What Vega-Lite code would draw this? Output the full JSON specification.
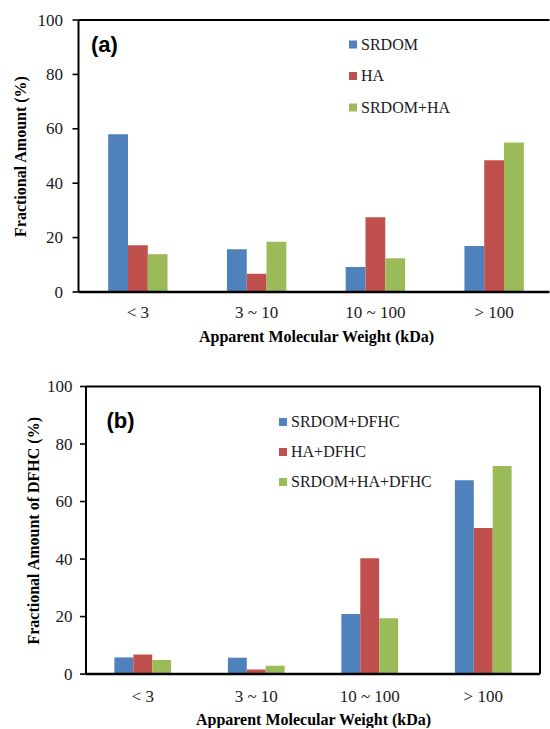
{
  "$schema": "https://vega.github.io/schema/vega-lite/v6.json",
  "padding": {"left": 11.5, "top": 11, "right": 0, "bottom": 0},
  "background": "white",
  "datasets": {
    "fractionA": [
      {"size": "< 3", "sample": "SRDOM", "amount": 58.0},
      {"size": "< 3", "sample": "HA", "amount": 17.2},
      {"size": "< 3", "sample": "SRDOM+HA", "amount": 13.9},
      {"size": "3 ~ 10", "sample": "SRDOM", "amount": 15.7},
      {"size": "3 ~ 10", "sample": "HA", "amount": 6.7},
      {"size": "3 ~ 10", "sample": "SRDOM+HA", "amount": 18.5},
      {"size": "10 ~ 100", "sample": "SRDOM", "amount": 9.2},
      {"size": "10 ~ 100", "sample": "HA", "amount": 27.5},
      {"size": "10 ~ 100", "sample": "SRDOM+HA", "amount": 12.4},
      {"size": "> 100", "sample": "SRDOM", "amount": 16.9},
      {"size": "> 100", "sample": "HA", "amount": 48.4},
      {"size": "> 100", "sample": "SRDOM+HA", "amount": 55.0}
    ],
    "fractionB": [
      {"size": "< 3", "sample": "SRDOM+DFHC", "amount": 5.8},
      {"size": "< 3", "sample": "HA+DFHC", "amount": 6.8},
      {"size": "< 3", "sample": "SRDOM+HA+DFHC", "amount": 4.9},
      {"size": "3 ~ 10", "sample": "SRDOM+DFHC", "amount": 5.7},
      {"size": "3 ~ 10", "sample": "HA+DFHC", "amount": 1.6},
      {"size": "3 ~ 10", "sample": "SRDOM+HA+DFHC", "amount": 2.9},
      {"size": "10 ~ 100", "sample": "SRDOM+DFHC", "amount": 20.9},
      {"size": "10 ~ 100", "sample": "HA+DFHC", "amount": 40.3},
      {"size": "10 ~ 100", "sample": "SRDOM+HA+DFHC", "amount": 19.4},
      {"size": "> 100", "sample": "SRDOM+DFHC", "amount": 67.4},
      {"size": "> 100", "sample": "HA+DFHC", "amount": 50.8},
      {"size": "> 100", "sample": "SRDOM+HA+DFHC", "amount": 72.4}
    ],
    "yTicks": [
      {"tick": 0}, {"tick": 20}, {"tick": 40}, {"tick": 60}, {"tick": 80}, {"tick": 100}
    ],
    "frame": [{}]
  },
  "vconcat": [
    {
      "width": 471,
      "height": 272,
      "title": {
        "text": "(a)",
        "anchor": "start",
        "frame": "group",
        "orient": "top",
        "offset": 0,
        "baseline": "middle",
        "dx": 12.5,
        "dy": 56,
        "font": "Liberation Sans",
        "fontSize": 22,
        "fontWeight": "bold",
        "color": "black"
      },
      "layer": [
        {
          "data": {"name": "fractionA"},
          "mark": {"type": "bar"},
          "encoding": {
            "x": {
              "field": "size",
              "type": "nominal",
              "sort": ["< 3", "3 ~ 10", "10 ~ 100", "> 100"],
              "scale": {"range": [0, 475], "paddingInner": 0.5, "paddingOuter": 0.25},
              "axis": {"title": "Apparent Molecular Weight (kDa)", "labelAngle": 0, "domain": false, "ticks": false, "labelPadding": 12, "titlePadding": 8}
            },
            "xOffset": {
              "field": "sample",
              "type": "nominal",
              "sort": ["SRDOM", "HA", "SRDOM+HA"],
              "scale": {"paddingInner": 0, "paddingOuter": 0}
            },
            "y": {
              "field": "amount",
              "type": "quantitative",
              "scale": {"domain": [0, 100], "nice": false},
              "axis": {"title": "Fractional  Amount (%)", "values": [0, 20, 40, 60, 80, 100], "domain": false, "ticks": false, "labelPadding": 16, "titlePadding": 9}
            },
            "color": {
              "field": "sample",
              "type": "nominal",
              "sort": ["SRDOM", "HA", "SRDOM+HA"],
              "scale": {"domain": ["SRDOM", "HA", "SRDOM+HA"], "range": ["#4F81BD", "#C0504D", "#9BBB59"]},
              "legend": {"orient": "none", "legendX": 266.5, "legendY": 16.5, "rowPadding": 15.5, "title": null}
            }
          }
        },
        {
          "data": {"name": "frame"},
          "mark": {"type": "rule", "strokeWidth": 2, "color": "black"},
          "encoding": {"y": {"datum": 100}}
        },
        {
          "data": {"name": "frame"},
          "mark": {"type": "rule", "strokeWidth": 2.5, "color": "black"},
          "encoding": {"y": {"datum": 0}}
        },
        {
          "data": {"name": "frame"},
          "mark": {"type": "rule", "strokeWidth": 2, "color": "black"},
          "encoding": {
            "x": {"datum": 0, "type": "quantitative", "scale": {"domain": [0, 1]}, "axis": null},
            "y": {"datum": 0},
            "y2": {"datum": 100}
          }
        },
        {
          "data": {"name": "yTicks"},
          "mark": {"type": "tick", "orient": "horizontal", "size": 6, "thickness": 1.6, "color": "black", "opacity": 1, "xOffset": -3},
          "encoding": {
            "x": {"datum": 0, "type": "quantitative", "scale": {"domain": [0, 1]}, "axis": null},
            "y": {"field": "tick", "type": "quantitative"}
          }
        }
      ],
      "resolve": {"scale": {"x": "independent"}}
    },
    {
      "width": 461.5,
      "height": 287.6,
      "title": {
        "text": "(b)",
        "anchor": "start",
        "frame": "group",
        "orient": "top",
        "offset": 0,
        "baseline": "middle",
        "dx": 28,
        "dy": 65,
        "font": "Liberation Sans",
        "fontSize": 22,
        "fontWeight": "bold",
        "color": "black"
      },
      "layer": [
        {
          "data": {"name": "fractionB"},
          "mark": {"type": "bar"},
          "encoding": {
            "x": {
              "field": "size",
              "type": "nominal",
              "sort": ["< 3", "3 ~ 10", "10 ~ 100", "> 100"],
              "scale": {"range": [7.5, 461.5], "paddingInner": 0.5, "paddingOuter": 0.25},
              "axis": {"title": "Apparent Molecular Weight (kDa)", "labelAngle": 0, "domain": false, "ticks": false, "labelPadding": 14, "titlePadding": 7}
            },
            "xOffset": {
              "field": "sample",
              "type": "nominal",
              "sort": ["SRDOM+DFHC", "HA+DFHC", "SRDOM+HA+DFHC"],
              "scale": {"paddingInner": 0, "paddingOuter": 0}
            },
            "y": {
              "field": "amount",
              "type": "quantitative",
              "scale": {"domain": [0, 100], "nice": false},
              "axis": {"title": "Fractional  Amount of DFHC (%)", "values": [0, 20, 40, 60, 80, 100], "offset": -4.5, "domain": false, "ticks": false, "labelPadding": 11, "titlePadding": 5}
            },
            "color": {
              "field": "sample",
              "type": "nominal",
              "sort": ["SRDOM+DFHC", "HA+DFHC", "SRDOM+HA+DFHC"],
              "scale": {"domain": ["SRDOM+DFHC", "HA+DFHC", "SRDOM+HA+DFHC"], "range": ["#4F81BD", "#C0504D", "#9BBB59"]},
              "legend": {"orient": "none", "legendX": 196.5, "legendY": 27.5, "rowPadding": 14, "title": null}
            }
          }
        },
        {
          "data": {"name": "frame"},
          "mark": {"type": "rule", "strokeWidth": 2, "color": "black"},
          "encoding": {
            "x": {"datum": 0, "type": "quantitative", "scale": {"domain": [0, 1], "range": [7.5, 461.5]}, "axis": null},
            "x2": {"datum": 1},
            "y": {"datum": 100}
          }
        },
        {
          "data": {"name": "frame"},
          "mark": {"type": "rule", "strokeWidth": 2.5, "color": "black"},
          "encoding": {
            "x": {"datum": 0, "type": "quantitative", "scale": {"domain": [0, 1], "range": [7.5, 461.5]}, "axis": null},
            "x2": {"datum": 1},
            "y": {"datum": 0}
          }
        },
        {
          "data": {"name": "frame"},
          "mark": {"type": "rule", "strokeWidth": 2, "color": "black"},
          "encoding": {
            "x": {"datum": 0, "type": "quantitative", "scale": {"domain": [0, 1], "range": [7.5, 461.5]}, "axis": null},
            "y": {"datum": 0},
            "y2": {"datum": 100}
          }
        },
        {
          "data": {"name": "frame"},
          "mark": {"type": "rule", "strokeWidth": 2, "color": "black"},
          "encoding": {
            "x": {"datum": 1, "type": "quantitative", "scale": {"domain": [0, 1], "range": [7.5, 461.5]}, "axis": null},
            "y": {"datum": 0},
            "y2": {"datum": 100}
          }
        },
        {
          "data": {"name": "yTicks"},
          "mark": {"type": "tick", "orient": "horizontal", "size": 6, "thickness": 1.6, "color": "black", "opacity": 1, "xOffset": -3},
          "encoding": {
            "x": {"datum": 0, "type": "quantitative", "scale": {"domain": [0, 1], "range": [7.5, 461.5]}, "axis": null},
            "y": {"field": "tick", "type": "quantitative"}
          }
        }
      ],
      "resolve": {"scale": {"x": "independent"}}
    }
  ],
  "resolve": {
    "scale": {"color": "independent", "xOffset": "independent", "x": "independent", "y": "independent"},
    "legend": {"color": "independent"}
  },
  "spacing": 33.5,
  "config": {
    "font": "Liberation Serif",
    "view": {"stroke": null},
    "axis": {
      "grid": false,
      "labelFont": "Liberation Serif",
      "labelFontSize": 17,
      "labelColor": "#1a1a1a",
      "titleFont": "Liberation Serif",
      "titleFontSize": 16,
      "titleFontWeight": "bold",
      "titleColor": "black"
    },
    "legend": {
      "symbolType": "square",
      "symbolSize": 64,
      "symbolStrokeWidth": 0,
      "labelFont": "Liberation Serif",
      "labelFontSize": 16,
      "labelColor": "#1a1a1a",
      "labelOffset": 0,
      "padding": 0
    }
  }
}
